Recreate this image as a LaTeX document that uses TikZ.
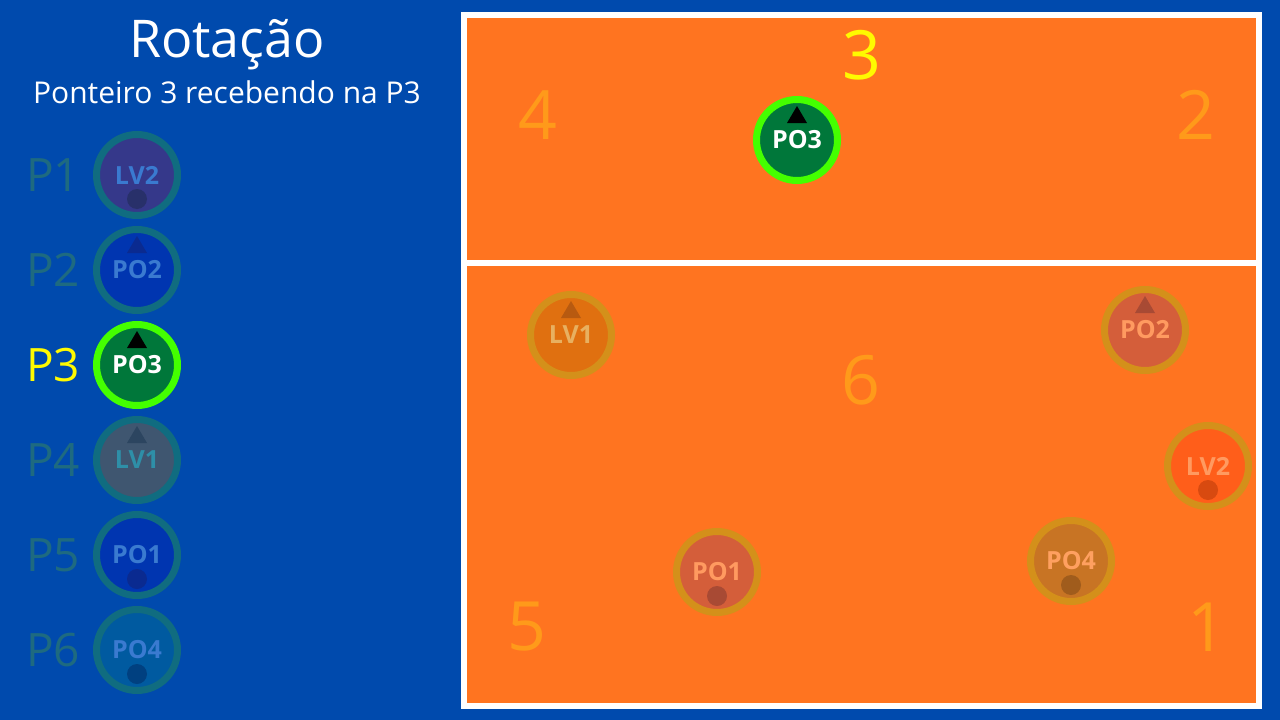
\documentclass[tikz,border=0pt]{standalone}
\usepackage{fontspec}
\setmainfont{Open Sans}
\usetikzlibrary{calc}

\definecolor{FundoAzul}{RGB}{0,74,173}
\definecolor{Quadra}{RGB}{255,116,32}
\definecolor{NumQuadra}{RGB}{255,154,26}
\definecolor{Amarelo}{RGB}{255,250,0}
\definecolor{RotuloApagado}{RGB}{30,106,128}
% jogador em destaque
\definecolor{AnelVerde}{RGB}{68,255,0}
\definecolor{FundoVerde}{RGB}{0,119,58}
% jogadores apagados (painel)
\definecolor{AnelAzul}{RGB}{16,108,128}
\definecolor{TextoAzul}{RGB}{58,122,208}
\definecolor{RoxoLV}{RGB}{53,56,138}
\definecolor{RoxoMarca}{RGB}{40,48,106}
\definecolor{AzulPO}{RGB}{0,53,176}
\definecolor{AzulMarca}{RGB}{10,42,144}
\definecolor{CinzaLV}{RGB}{63,86,112}
\definecolor{CinzaTexto}{RGB}{46,143,168}
\definecolor{CinzaMarca}{RGB}{44,69,96}
\definecolor{AzulClaro}{RGB}{0,90,160}
\definecolor{AzulClaroMarca}{RGB}{0,64,128}
% jogadores apagados (quadra)
\definecolor{AnelOcre}{RGB}{212,144,26}
\definecolor{TextoOcre}{RGB}{255,154,96}
\definecolor{LaranjaLV}{RGB}{224,112,16}
\definecolor{LaranjaLVTexto}{RGB}{232,176,96}
\definecolor{LaranjaLVMarca}{RGB}{184,90,16}
\definecolor{TijoloPO}{RGB}{212,94,58}
\definecolor{TijoloMarca}{RGB}{168,74,52}
\definecolor{VivoLV}{RGB}{255,94,26}
\definecolor{VivoMarca}{RGB}{216,74,16}
\definecolor{MarromPO}{RGB}{200,116,36}
\definecolor{MarromTexto}{RGB}{255,160,96}
\definecolor{MarromMarca}{RGB}{160,92,28}

\tikzset{
  jogador/.style={circle, minimum size=81pt, inner sep=0pt, line width=7pt,
    font=\bfseries\fontsize{25pt}{25pt}\selectfont},
  numquadra/.style={text=NumQuadra, font=\fontsize{68pt}{68pt}\selectfont},
  posicao/.style={text=RotuloApagado, font=\fontsize{46pt}{46pt}\selectfont}
}
% marca de cima (triangulo) e de baixo (bola)
\newcommand{\seta}[2]{\fill[#2] ($(#1)+(0,-34)$) -- ($(#1)+(-10,-17)$) -- ($(#1)+(10,-17)$) -- cycle;}
\newcommand{\bola}[2]{\fill[#2] ($(#1)+(0,24)$) circle (10);}

\begin{document}
\begin{tikzpicture}[x=1pt, y=-1pt]
	\useasboundingbox (0,0) rectangle (1280,720);
	\fill[FundoAzul] (0,0) rectangle (1280,720);

	% titulo
	\node[white, font=\fontsize{52pt}{52pt}\selectfont] (titulo) at (227,45) {Rotação};
	\node[white, font=\fontsize{30pt}{30pt}\selectfont] (subtitulo) at (227,92) {Ponteiro 3 recebendo na P3};

	% quadra
	\fill[Quadra] (464,15) rectangle (1259,706);
	\draw[white, line width=6pt] (464,15) rectangle (1259,706);
	\draw[white, line width=6pt] (464,263) -- (1259,263);

	% numeros das posicoes na quadra
	\node[text=Amarelo, font=\fontsize{68pt}{68pt}\selectfont] (n3) at (862,55) {3};
	\node[numquadra] (n4) at (538,115) {4};
	\node[numquadra] (n2) at (1196,115) {2};
	\node[numquadra] (n6) at (861,380) {6};
	\node[numquadra] (n5) at (527,627) {5};
	\node[numquadra] (n1) at (1207,627) {1};

	% painel da rotacao
	\node[posicao] (p1) at (53,175) {P1};
	\node[posicao] (p2) at (53,270) {P2};
	\node[posicao, text=Amarelo] (p3) at (53,365) {P3};
	\node[posicao] (p4) at (53,460) {P4};
	\node[posicao] (p5) at (53,555) {P5};
	\node[posicao] (p6) at (53,650) {P6};

	\node[jogador, draw=AnelAzul, fill=RoxoLV, text=TextoAzul] (a1) at (137,175) {LV2};
	\bola{a1}{RoxoMarca}
	\node[jogador, draw=AnelAzul, fill=AzulPO, text=TextoAzul] (a2) at (137,270) {PO2};
	\seta{a2}{AzulMarca}
	\node[jogador, draw=AnelVerde, fill=FundoVerde, text=white] (a3) at (137,365) {PO3};
	\seta{a3}{black}
	\node[jogador, draw=AnelAzul, fill=CinzaLV, text=CinzaTexto] (a4) at (137,460) {LV1};
	\seta{a4}{CinzaMarca}
	\node[jogador, draw=AnelAzul, fill=AzulPO, text=TextoAzul] (a5) at (137,555) {PO1};
	\bola{a5}{AzulMarca}
	\node[jogador, draw=AnelAzul, fill=AzulClaro, text=TextoAzul] (a6) at (137,650) {PO4};
	\bola{a6}{AzulClaroMarca}

	% jogadores na quadra
	\node[jogador, draw=AnelVerde, fill=FundoVerde, text=white] (q3) at (797,140) {PO3};
	\seta{q3}{black}
	\node[jogador, draw=AnelOcre, fill=LaranjaLV, text=LaranjaLVTexto] (q4) at (571,335) {LV1};
	\seta{q4}{LaranjaLVMarca}
	\node[jogador, draw=AnelOcre, fill=TijoloPO, text=TextoOcre] (q2) at (1145,330) {PO2};
	\seta{q2}{TijoloMarca}
	\node[jogador, draw=AnelOcre, fill=VivoLV, text=TextoOcre] (q1) at (1208,466) {LV2};
	\bola{q1}{VivoMarca}
	\node[jogador, draw=AnelOcre, fill=MarromPO, text=MarromTexto] (q6) at (1071,561) {PO4};
	\bola{q6}{MarromMarca}
	\node[jogador, draw=AnelOcre, fill=TijoloPO, text=TextoOcre] (q5) at (717,572) {PO1};
	\bola{q5}{TijoloMarca}
\end{tikzpicture}
\end{document}
